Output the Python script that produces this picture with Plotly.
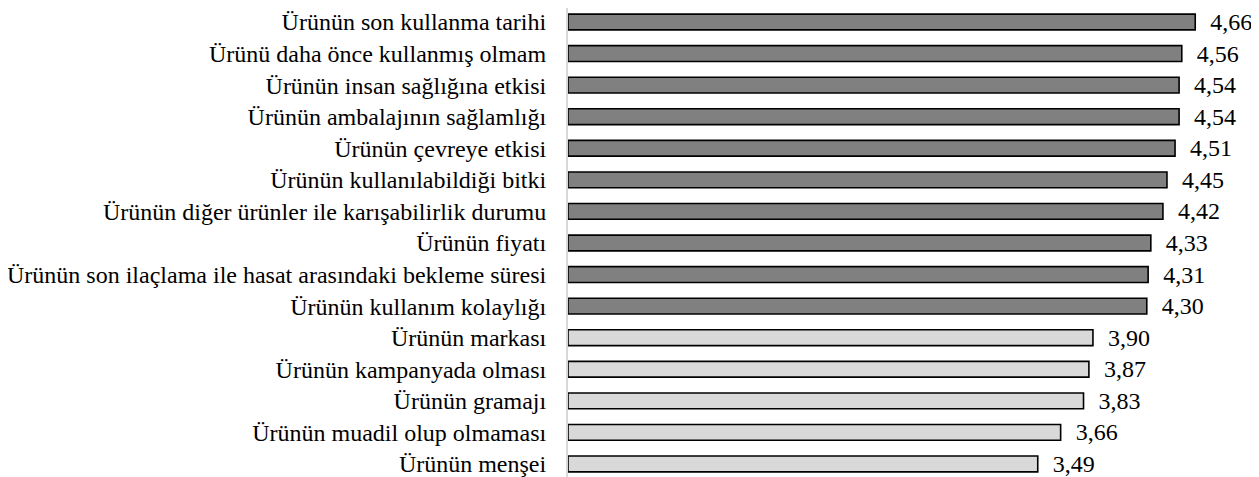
import plotly.graph_objects as go

categories = [
    "Ürünün son kullanma tarihi",
    "Ürünü daha önce kullanmış olmam",
    "Ürünün insan sağlığına etkisi",
    "Ürünün ambalajının sağlamlığı",
    "Ürünün çevreye etkisi",
    "Ürünün kullanılabildiği bitki",
    "Ürünün diğer ürünler ile karışabilirlik durumu",
    "Ürünün fiyatı",
    "Ürünün son ilaçlama ile hasat arasındaki bekleme süresi",
    "Ürünün kullanım kolaylığı",
    "Ürünün markası",
    "Ürünün kampanyada olması",
    "Ürünün gramajı",
    "Ürünün muadil olup olmaması",
    "Ürünün menşei",
]
values = [4.66, 4.56, 4.54, 4.54, 4.51, 4.45, 4.42, 4.33, 4.31, 4.30,
          3.90, 3.87, 3.83, 3.66, 3.49]
groups = ["high"] * 10 + ["low"] * 5

colors = ["#808080" if g == "high" else "#d9d9d9" for g in groups]
labels = ["  " + f"{v:.2f}".replace(".", ",") for v in values]

FONT = "'Liberation Serif', 'Times New Roman', Times, serif"

fig = go.Figure(go.Bar(
    x=values,
    y=list(range(len(categories))),
    orientation="h",
    width=0.5,
    marker=dict(color=colors, line=dict(color="#000000", width=1.6)),
    text=labels,
    textposition="outside",
    constraintext="none",
    textfont=dict(family=FONT, size=24, color="#000000"),
    cliponaxis=False,
))

fig.update_layout(
    width=1251, height=469,
    margin=dict(l=560, r=18, t=0, b=0, pad=0),
    plot_bgcolor="white", paper_bgcolor="white",
    showlegend=False,
    font=dict(family=FONT, size=24, color="#000000"),
    xaxis=dict(range=[0, 5], showgrid=False, zeroline=False, showticklabels=False,
               showline=False, ticks=""),
    yaxis=dict(range=[14.413, -0.443], tickmode="array",
               tickvals=list(range(len(categories))), ticktext=categories,
               showgrid=False, zeroline=False, showline=True, linecolor="#d9d9d9",
               linewidth=2, ticks="", ticklabelstandoff=15,
               ticklabeloverflow="allow"),
)

fig.write_html("out.html")
